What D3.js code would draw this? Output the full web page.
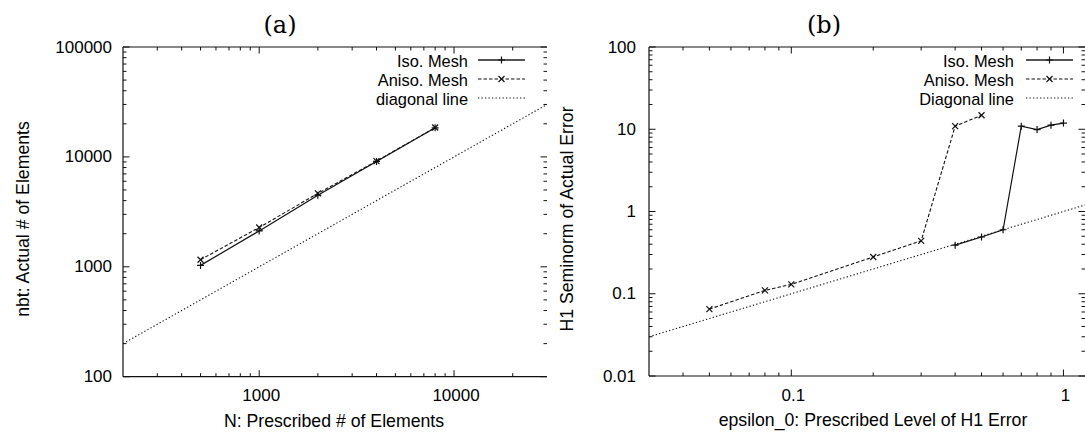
<!DOCTYPE html>
<html>
<head>
<meta charset="utf-8">
<script src="https://cdn.jsdelivr.net/npm/d3@7"></script>
<style>
  html, body { margin: 0; padding: 0; background: #fff; }
  svg { display: block; }
  text { font-family: "Liberation Sans", Arial, Helvetica, sans-serif; fill: #000; }
</style>
</head>
<body>
<svg id="chart" width="1085" height="432"></svg>
<script>
// ---------------- DATA ----------------
// Panel (a)
const aTitle = "(a)";
const aXLabel = "N: Prescribed # of Elements";
const aYLabel = "nbt: Actual # of Elements";
const aXDomain = [200, 30000];
const aYDomain = [100, 100000];
const aXTickValues = [1000, 10000];
const aXTickLabels = ["1000", "10000"];
const aYTickValues = [100, 1000, 10000, 100000];
const aYTickLabels = ["100", "1000", "10000", "100000"];
const aIsoN = [500, 1000, 2000, 4000, 8000];
const aIsoNbt = [1030, 2120, 4480, 9100, 18400];
const aAnisoN = [500, 1000, 2000, 4000, 8000];
const aAnisoNbt = [1160, 2280, 4650, 9150, 18500];
const aDiagX = [200, 30000];
const aDiagY = [200, 30000];
const aLegend = ["Iso. Mesh", "Aniso. Mesh", "diagonal line"];

// Panel (b)
const bTitle = "(b)";
const bXLabel = "epsilon_0: Prescribed Level of H1 Error";
const bYLabel = "H1 Seminorm of Actual Error";
const bXDomain = [0.03, 1.2];
const bYDomain = [0.01, 100];
const bXTickValues = [0.1, 1];
const bXTickLabels = ["0.1", "1"];
const bYTickValues = [0.01, 0.1, 1, 10, 100];
const bYTickLabels = ["0.01", "0.1", "1", "10", "100"];
const bIsoEps = [0.4, 0.5, 0.6, 0.7, 0.8, 0.9, 1.0];
const bIsoErr = [0.39, 0.49, 0.60, 10.9, 9.9, 11.2, 11.9];
const bAnisoEps = [0.05, 0.08, 0.1, 0.2, 0.3, 0.4, 0.5];
const bAnisoErr = [0.065, 0.11, 0.13, 0.28, 0.44, 10.9, 14.8];
const bDiagX = [0.03, 1.2];
const bDiagY = [0.03, 1.2];
const bLegend = ["Iso. Mesh", "Aniso. Mesh", "Diagonal line"];

// ---------------- DRAWING ----------------
const svg = d3.select("#chart");
const FS = 17;        // tick labels
const FS_T = 17.7;    // axis titles
const FS_L = 16.4;    // legend
const INK = "#111";

function drawPanel(cfg) {
  const g = svg.append("g");
  const x = d3.scaleLog().domain(cfg.xDomain).range([cfg.left, cfg.right]);
  const y = d3.scaleLog().domain(cfg.yDomain).range([cfg.bottom, cfg.top]);
  const xr = cfg.right;

  const clipId = "clip" + cfg.id;
  svg.append("clipPath").attr("id", clipId).append("rect")
    .attr("x", cfg.left).attr("y", cfg.top)
    .attr("width", cfg.right - cfg.left).attr("height", cfg.bottom - cfg.top);

  // Borders: left, bottom, top (right border falls outside the visible crop)
  g.append("line").attr("x1", cfg.left).attr("x2", cfg.left).attr("y1", cfg.top).attr("y2", cfg.bottom)
    .attr("stroke", INK).attr("stroke-width", 1.2);
  g.append("line").attr("x1", cfg.left).attr("x2", xr).attr("y1", cfg.bottom).attr("y2", cfg.bottom)
    .attr("stroke", INK).attr("stroke-width", 1.2);
  g.append("line").attr("x1", cfg.left).attr("x2", xr).attr("y1", cfg.top).attr("y2", cfg.top)
    .attr("stroke", INK).attr("stroke-width", 1.2);

  const MAJ = 6.5, MIN = 3.5;
  const isMajor = v => Math.abs(Math.log10(v) - Math.round(Math.log10(v))) < 1e-9;

  x.ticks().forEach(v => {
    const px = x(v);
    if (px <= cfg.left + 0.5 || px >= xr - 0.5) return;
    const L = isMajor(v) ? MAJ : MIN;
    g.append("line").attr("x1", px).attr("x2", px).attr("y1", cfg.bottom).attr("y2", cfg.bottom - L)
      .attr("stroke", INK).attr("stroke-width", 1);
    g.append("line").attr("x1", px).attr("x2", px).attr("y1", cfg.top).attr("y2", cfg.top + L)
      .attr("stroke", INK).attr("stroke-width", 1);
  });
  y.ticks().forEach(v => {
    const py = y(v);
    if ((py <= cfg.top + 0.5 || py >= cfg.bottom - 0.5) && !isMajor(v)) return;
    const L = isMajor(v) ? MAJ : MIN;
    g.append("line").attr("x1", cfg.left).attr("x2", cfg.left + L).attr("y1", py).attr("y2", py)
      .attr("stroke", INK).attr("stroke-width", 1);
    g.append("line").attr("x1", xr).attr("x2", xr - L).attr("y1", py).attr("y2", py)
      .attr("stroke", INK).attr("stroke-width", 1);
  });

  cfg.xTickValues.forEach((v, i) => {
    g.append("text").attr("x", x(v) + 2).attr("y", cfg.bottom + 19)
      .attr("text-anchor", "middle").attr("dominant-baseline", "central")
      .attr("font-size", FS).text(cfg.xTickLabels[i]);
  });
  cfg.yTickValues.forEach((v, i) => {
    g.append("text").attr("x", cfg.left - cfg.yTickGap).attr("y", y(v))
      .attr("text-anchor", "end").attr("dominant-baseline", "central")
      .attr("font-size", FS).text(cfg.yTickLabels[i]);
  });

  g.append("text").attr("x", cfg.xLabelX).attr("y", cfg.bottom + 44)
    .attr("text-anchor", "middle").attr("dominant-baseline", "central")
    .attr("font-size", FS_T).text(cfg.xLabel);
  g.append("text")
    .attr("transform", `translate(${cfg.yLabelX},${cfg.yLabelY}) rotate(-90)`)
    .attr("text-anchor", "middle").attr("dominant-baseline", "central")
    .attr("font-size", FS_T).text(cfg.yLabel);

  svg.append("text").attr("x", cfg.titleX).attr("y", 25)
    .attr("text-anchor", "middle").attr("dominant-baseline", "central")
    .style("font-family", "'DejaVu Serif','Liberation Serif',serif")
    .attr("font-size", 24).text(cfg.title);

  const plot = g.append("g").attr("clip-path", `url(#${clipId})`);
  const line = d3.line().x(d => x(d[0])).y(d => y(d[1]));

  plot.append("path").datum(d3.zip(cfg.diagX, cfg.diagY))
    .attr("d", line).attr("fill", "none").attr("stroke", INK)
    .attr("stroke-width", 1.1).attr("stroke-dasharray", "1.3,2.2");
  const anisoPts = d3.zip(cfg.anisoX, cfg.anisoY);
  plot.append("path").datum(anisoPts)
    .attr("d", line).attr("fill", "none").attr("stroke", INK)
    .attr("stroke-width", 1.1).attr("stroke-dasharray", "3.5,2");
  const isoPts = d3.zip(cfg.isoX, cfg.isoY);
  plot.append("path").datum(isoPts)
    .attr("d", line).attr("fill", "none").attr("stroke", INK).attr("stroke-width", 1.2);

  const S = 3.5;
  function plus(gg, cx, cy) {
    gg.append("path").attr("d", `M${cx - S},${cy}H${cx + S}M${cx},${cy - S}V${cy + S}`)
      .attr("stroke", INK).attr("stroke-width", 1.2).attr("fill", "none");
  }
  function cross(gg, cx, cy) {
    const s = 3;
    gg.append("path").attr("d", `M${cx - s},${cy - s}L${cx + s},${cy + s}M${cx - s},${cy + s}L${cx + s},${cy - s}`)
      .attr("stroke", INK).attr("stroke-width", 1.2).attr("fill", "none");
  }
  anisoPts.forEach(p => cross(plot, x(p[0]), y(p[1])));
  isoPts.forEach(p => plus(plot, x(p[0]), y(p[1])));

  const rows = [60, 79, 98];
  const lx0 = cfg.legLineX0, lx1 = cfg.legLineX1, lmid = (lx0 + lx1) / 2;
  cfg.legend.forEach((t, i) => {
    g.append("text").attr("x", cfg.legTextX).attr("y", rows[i] + 0.5)
      .attr("text-anchor", "end").attr("dominant-baseline", "central")
      .attr("font-size", FS_L).text(t);
  });
  g.append("line").attr("x1", lx0).attr("x2", lx1).attr("y1", rows[0]).attr("y2", rows[0])
    .attr("stroke", "#555").attr("stroke-width", 2);
  plus(g, lmid, rows[0]);
  g.append("line").attr("x1", lx0).attr("x2", lx1).attr("y1", rows[1]).attr("y2", rows[1])
    .attr("stroke", INK).attr("stroke-width", 1.1).attr("stroke-dasharray", "3.5,2");
  cross(g, lmid, rows[1]);
  g.append("line").attr("x1", lx0).attr("x2", lx1).attr("y1", rows[2]).attr("y2", rows[2])
    .attr("stroke", INK).attr("stroke-width", 1.1).attr("stroke-dasharray", "1.3,2.2");
}

drawPanel({
  id: "a", left: 123, right: 547, top: 47, bottom: 376.7, yTickGap: 11,
  xDomain: aXDomain, yDomain: aYDomain,
  xTickValues: aXTickValues, xTickLabels: aXTickLabels,
  yTickValues: aYTickValues, yTickLabels: aYTickLabels,
  xLabel: aXLabel, yLabel: aYLabel, xLabelX: 334, yLabelX: 23, yLabelY: 219,
  title: aTitle, titleX: 280,
  isoX: aIsoN, isoY: aIsoNbt, anisoX: aAnisoN, anisoY: aAnisoNbt,
  diagX: aDiagX, diagY: aDiagY, legend: aLegend,
  legTextX: 468, legLineX0: 478, legLineX1: 525
});

drawPanel({
  id: "b", left: 649, right: 1085, top: 47, bottom: 376, yTickGap: 13,
  xDomain: bXDomain, yDomain: bYDomain,
  xTickValues: bXTickValues, xTickLabels: bXTickLabels,
  yTickValues: bYTickValues, yTickLabels: bYTickLabels,
  xLabel: bXLabel, yLabel: bYLabel, xLabelX: 873, yLabelX: 567, yLabelY: 219,
  title: bTitle, titleX: 824,
  isoX: bIsoEps, isoY: bIsoErr, anisoX: bAnisoEps, anisoY: bAnisoErr,
  diagX: bDiagX, diagY: bDiagY, legend: bLegend,
  legTextX: 1014, legLineX0: 1026, legLineX1: 1073
});
</script>
</body>
</html>
